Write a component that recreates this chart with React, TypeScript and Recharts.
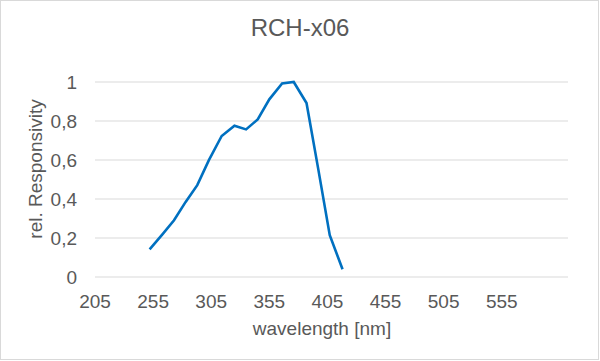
import React from "react";
import { LineChart, Line, XAxis, YAxis, CartesianGrid, Label } from "recharts";

const wavelengths = [252, 263, 273, 283, 293, 303, 314, 325, 335, 345, 355, 366, 376, 387, 397, 407, 418];
const responsivity = [0.142, 0.219, 0.291, 0.385, 0.471, 0.599, 0.723, 0.776, 0.757, 0.808, 0.911, 0.993, 1.0, 0.892, 0.557, 0.214, 0.04];
const xTicks = [205, 255, 305, 355, 405, 455, 505, 555];
const yTicks = [0, 0.2, 0.4, 0.6, 0.8, 1];
const title = "RCH-x06";
const xTitle = "wavelength [nm]";
const yTitle = "rel. Responsivity";

const data = wavelengths.map((w, i) => ({ w, r: responsivity[i] }));

const FONT = "'Liberation Sans', Arial, sans-serif";
const TXT = "#595959";

export default function App() {
  return (
    <div
      style={{
        position: "absolute",
        left: 0,
        top: 0,
        width: 599,
        height: 360,
        border: "1px solid #d9d9d9",
        boxSizing: "border-box",
        background: "#fff",
      }}
    >
      <div style={{ position: "absolute", left: -1, top: -1 }}>
        <LineChart
          width={600}
          height={361}
          data={data}
          margin={{ top: 82, right: 32, bottom: 0, left: 0 }}
        >
          <text
            x={300}
            y={36}
            textAnchor="middle"
            fontFamily={FONT}
            fontSize={24}
            fill={TXT}
          >
            {title}
          </text>
          <CartesianGrid vertical={false} stroke="#d9d9d9" strokeWidth={1.2} />
          <XAxis
            dataKey="w"
            type="number"
            domain={[205, 612]}
            ticks={xTicks}
            allowDataOverflow
            axisLine={false}
            tickLine={false}
            tickMargin={12}
            height={84}
            tick={{ fill: TXT, fontSize: 19, fontFamily: FONT }}
            interval={0}
          >
            <Label
              content={() => (
                <text
                  x={322}
                  y={335}
                  textAnchor="middle"
                  fontFamily={FONT}
                  fontSize={19}
                  fill={TXT}
                >
                  {xTitle}
                </text>
              )}
            />
          </XAxis>
          <YAxis
            type="number"
            domain={[0, 1]}
            ticks={yTicks}
            axisLine={false}
            tickLine={false}
            tickMargin={12}
            width={95}
            interval={0}
            tick={{ fill: TXT, fontSize: 19, fontFamily: FONT }}
            tickFormatter={(v: number) => String(v).replace(".", ",")}
          >
            <Label
              content={() => (
                <text
                  transform="translate(42,169) rotate(-90)"
                  textAnchor="middle"
                  fontFamily={FONT}
                  fontSize={19}
                  fill={TXT}
                >
                  {yTitle}
                </text>
              )}
            />
          </YAxis>
          <Line
            type="linear"
            dataKey="r"
            stroke="#0070C0"
            strokeWidth={2.6}
            dot={false}
            isAnimationActive={false}
          />
        </LineChart>
      </div>
    </div>
  );
}
